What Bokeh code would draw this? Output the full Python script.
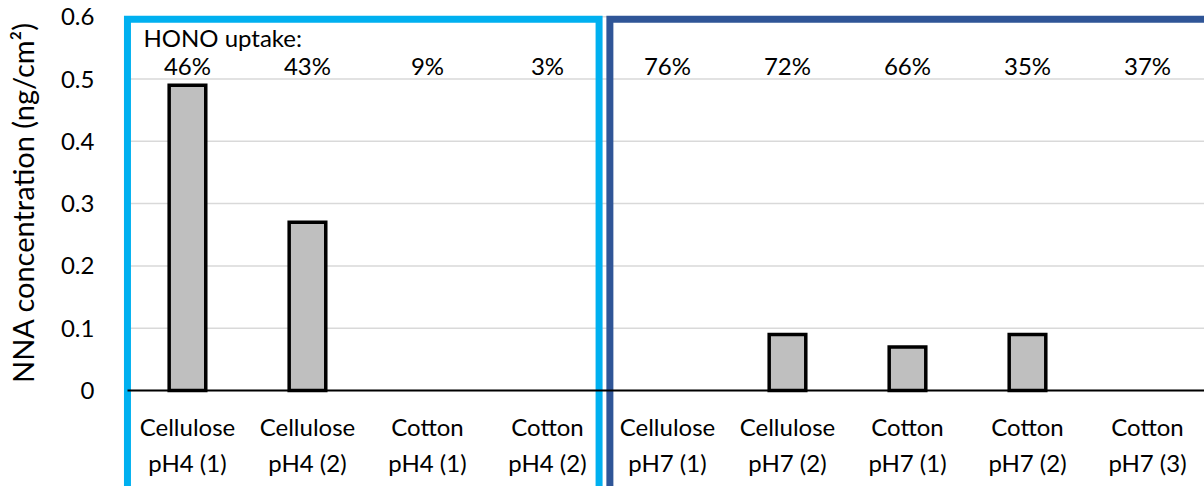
import math
import numpy as np
from bokeh.plotting import figure
from bokeh.models import (Range1d, FixedTicker, ColumnDataSource, CDSView,
                          BooleanFilter, Label)
from bokeh.core.properties import value
from bokeh.embed import file_html
from bokeh.resources import INLINE

# ---- data ----
categories = ["Cellulose\npH4 (1)", "Cellulose\npH4 (2)", "Cotton\npH4 (1)", "Cotton\npH4 (2)",
              "Cellulose\npH7 (1)", "Cellulose\npH7 (2)", "Cotton\npH7 (1)", "Cotton\npH7 (2)",
              "Cotton\npH7 (3)"]
nna = [0.49, 0.27, 0, 0, 0, 0.09, 0.07, 0.09, 0]
hono_uptake = [46, 43, 9, 3, 76, 72, 66, 35, 37]
y_ticks = [0, 0.1, 0.2, 0.3, 0.4, 0.5, 0.6]
y_tick_labels = ["0", "0.1", "0.2", "0.3", "0.4", "0.5", "0.6"]
group_names = ["pH4", "pH7"]
group_start = [0, 4]
group_end = [4, 9]
group_colors = ["#00B0F0", "#2F5597"]

FONT = "Lato"
X_START, X_END = -1.058, 8.975

xs = [i + 0.5 for i in range(len(categories))]
src = ColumnDataSource(dict(x=xs, nna=nna, pct=[f"{v}%" for v in hono_uptake]))

p = figure(width=1204, height=486, output_backend="svg", toolbar_location=None,
           x_range=Range1d(X_START, X_END), y_range=Range1d(-0.154, 0.626),
           min_border_left=0, min_border_right=0, min_border_top=0, min_border_bottom=0)
p.title.visible = False
p.outline_line_color = None
p.background_fill_color = "white"
p.border_fill_color = "white"
p.grid.visible = False

# horizontal gridlines across the category area only
p.segment(x0=0, x1=len(categories) + 1, y0=y_ticks, y1=y_ticks,
          line_color="#D9D9D9", line_width=1.5)

# bars (zero-valued bars are not drawn)
view = CDSView(filter=BooleanFilter([v > 0 for v in nna]))
p.vbar(x="x", top="nna", bottom=0, width=0.305, source=src, view=view,
       fill_color="#BFBFBF", line_color="black", line_width=3.5, line_join="miter")

# HONO uptake percentages
p.text(x="x", y=0.522, text="pct", source=src, text_font=value(FONT),
       text_font_size="24px", text_align="center", text_baseline="middle",
       text_color="black")
p.add_layout(Label(x=0.133, y=0.567, text="HONO uptake:", text_align="left",
                   text_baseline="middle", text_font=FONT, text_font_size="24px",
                   text_color="black"))

# group boxes
box_left = [s + (0.0 if i == 0 else 0.02) for i, s in enumerate(group_start)]
box_right = [e - 0.07 if i == 0 else e + 0.1 for i, e in enumerate(group_end)]
p.quad(left=box_left, right=box_right, top=[0.596] * 2, bottom=[-0.3] * 2,
       fill_color=None, line_color=group_colors, line_width=7, line_join="miter")

# x axis at y = 0 with category labels
xa = p.xaxis[0]
xa.fixed_location = 0
xa.bounds = (0, len(categories) + 1)
xa.ticker = FixedTicker(ticks=xs)
xa.major_label_overrides = {x: c for x, c in zip(xs, categories)}
xa.axis_line_color = "black"
xa.axis_line_width = 2
xa.major_tick_line_color = None
xa.minor_tick_line_color = None
xa.major_label_text_font = FONT
xa.major_label_text_font_size = "24px"
xa.major_label_text_color = "black"
xa.major_label_text_line_height = 1.25
xa.major_label_standoff = 15

# y axis, fixed just left of the first category
ya = p.yaxis[0]
ya.fixed_location = -0.025
ya.ticker = FixedTicker(ticks=y_ticks)
ya.major_label_overrides = {t: l for t, l in zip(y_ticks, y_tick_labels)}
ya.axis_line_color = None
ya.major_tick_line_color = None
ya.minor_tick_line_color = None
ya.major_label_text_font = FONT
ya.major_label_text_font_size = "24px"
ya.major_label_text_color = "black"
ya.major_label_standoff = 24

# y axis title
ylab = Label(x=22, y=284, x_units="screen", y_units="screen",
             text="NNA concentration (ng/cm\u00b2)", angle=math.pi / 2,
             text_align="center", text_baseline="middle",
             text_font=FONT, text_font_size="29px", text_color="black")
p.add_layout(ylab)

open("out.html", "w").write(file_html(p, INLINE))
